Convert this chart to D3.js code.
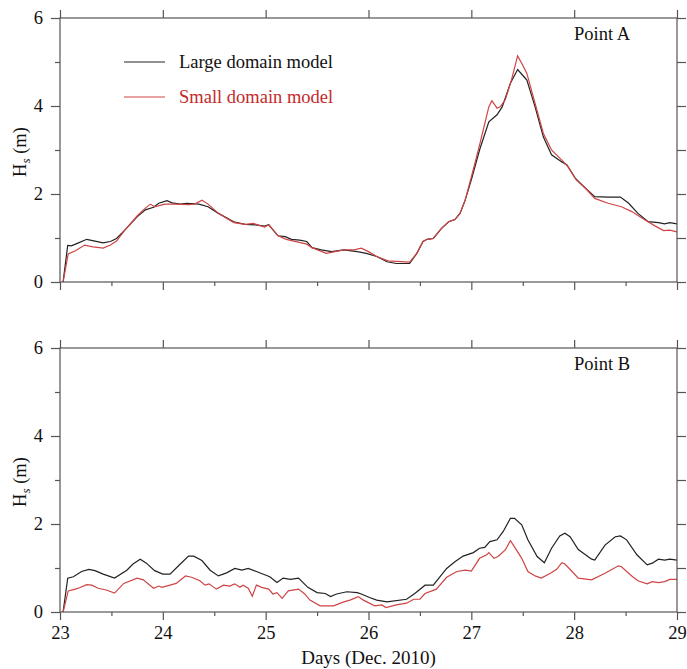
<!DOCTYPE html>
<html>
<head>
<meta charset="utf-8">
<script src="https://cdn.jsdelivr.net/npm/d3@7"></script>
<style>
  body { margin: 0; background: #fff; }
  svg text { font-family: "Liberation Serif", "Times New Roman", serif; fill: #111; }
</style>
</head>
<body>
<div class="chart-wrapper"></div>
<script>
// Point A, large domain model
const dayALarge = [23.03,23.075,23.11,23.18,23.26,23.34,23.42,23.49,23.55,23.63,23.75,23.83,23.91,23.96,24.04,24.09,24.17,24.23,24.35,24.44,24.54,24.69,24.80,24.90,24.99,25.03,25.12,25.19,25.25,25.33,25.40,25.45,25.54,25.64,25.76,25.89,25.98,26.08,26.18,26.27,26.40,26.47,26.53,26.57,26.63,26.71,26.78,26.84,26.89,26.94,27.00,27.08,27.17,27.25,27.30,27.38,27.45,27.51,27.54,27.62,27.70,27.78,27.88,27.93,28.01,28.11,28.20,28.33,28.45,28.53,28.62,28.72,28.82,28.88,28.93,29.0]
const hsALarge  = [0,0.83,0.82,0.89,0.97,0.93,0.89,0.92,0.99,1.18,1.48,1.64,1.70,1.79,1.85,1.80,1.77,1.79,1.77,1.71,1.56,1.37,1.31,1.30,1.27,1.30,1.05,1.03,0.97,0.95,0.92,0.78,0.73,0.69,0.73,0.69,0.65,0.58,0.46,0.42,0.42,0.65,0.92,0.97,0.99,1.22,1.37,1.42,1.56,1.86,2.32,3.00,3.64,3.80,3.98,4.52,4.83,4.67,4.59,3.98,3.30,2.89,2.73,2.66,2.36,2.13,1.94,1.93,1.93,1.79,1.56,1.37,1.35,1.32,1.35,1.32]

// Point A, small domain model
const dayASmall = [23.03,23.08,23.15,23.24,23.32,23.42,23.49,23.55,23.63,23.75,23.81,23.88,23.92,24.02,24.12,24.25,24.31,24.38,24.44,24.54,24.69,24.80,24.88,24.99,25.03,25.12,25.20,25.40,25.45,25.59,25.76,25.86,25.93,26.00,26.08,26.19,26.40,26.47,26.53,26.57,26.63,26.71,26.78,26.84,26.89,26.94,27.00,27.08,27.17,27.20,27.25,27.28,27.33,27.39,27.45,27.49,27.54,27.62,27.70,27.78,27.88,27.94,28.02,28.11,28.20,28.33,28.46,28.56,28.69,28.79,28.87,28.93,29.0]
const hsASmall  = [0,0.64,0.71,0.84,0.80,0.77,0.84,0.93,1.18,1.50,1.64,1.77,1.71,1.77,1.77,1.76,1.77,1.86,1.77,1.56,1.35,1.31,1.33,1.25,1.30,1.05,0.97,0.86,0.78,0.65,0.73,0.73,0.77,0.69,0.58,0.48,0.45,0.65,0.92,0.97,0.99,1.22,1.37,1.42,1.56,1.86,2.39,3.11,3.98,4.12,3.95,3.98,4.14,4.59,5.14,4.97,4.74,4.06,3.38,3.00,2.77,2.62,2.32,2.13,1.90,1.79,1.71,1.60,1.41,1.27,1.17,1.18,1.14]

// Point B, large domain model
const dayBLarge = [23.03,23.075,23.13,23.21,23.28,23.34,23.42,23.53,23.65,23.71,23.78,23.84,23.92,24.00,24.07,24.17,24.25,24.30,24.38,24.46,24.54,24.62,24.70,24.77,24.83,24.91,25.04,25.11,25.17,25.24,25.32,25.41,25.50,25.58,25.63,25.69,25.79,25.89,25.93,26.01,26.08,26.18,26.37,26.45,26.55,26.63,26.76,26.84,26.92,27.02,27.08,27.13,27.18,27.25,27.31,27.38,27.42,27.49,27.55,27.64,27.71,27.78,27.86,27.91,27.96,28.04,28.17,28.20,28.30,28.40,28.45,28.51,28.61,28.71,28.76,28.82,28.88,28.93,29.0]
const hsBLarge  = [0,0.77,0.80,0.92,0.97,0.94,0.86,0.77,0.95,1.09,1.20,1.11,0.94,0.86,0.86,1.09,1.27,1.27,1.17,0.95,0.82,0.89,0.99,0.95,0.99,0.92,0.80,0.67,0.77,0.74,0.77,0.56,0.44,0.42,0.35,0.41,0.46,0.44,0.41,0.33,0.27,0.23,0.29,0.42,0.61,0.61,0.99,1.14,1.27,1.35,1.45,1.47,1.60,1.64,1.83,2.13,2.13,1.98,1.64,1.26,1.12,1.45,1.73,1.79,1.71,1.42,1.20,1.18,1.52,1.71,1.73,1.64,1.30,1.07,1.11,1.20,1.18,1.20,1.18]

// Point B, small domain model
const dayBSmall = [23.03,23.08,23.15,23.19,23.26,23.31,23.37,23.45,23.53,23.62,23.75,23.81,23.91,23.96,23.99,24.07,24.13,24.22,24.28,24.36,24.41,24.45,24.52,24.59,24.65,24.70,24.75,24.78,24.83,24.87,24.91,24.96,25.03,25.07,25.11,25.16,25.22,25.32,25.38,25.43,25.53,25.66,25.76,25.82,25.90,25.95,26.06,26.13,26.17,26.27,26.37,26.44,26.50,26.55,26.66,26.76,26.86,26.94,27.00,27.08,27.15,27.17,27.22,27.26,27.33,27.38,27.42,27.49,27.55,27.62,27.68,27.77,27.83,27.88,27.91,27.98,28.04,28.17,28.30,28.43,28.46,28.56,28.62,28.71,28.76,28.82,28.88,28.93,29.0]
const hsBSmall  = [0,0.48,0.52,0.55,0.62,0.61,0.54,0.50,0.43,0.65,0.77,0.73,0.54,0.59,0.56,0.61,0.65,0.82,0.79,0.71,0.61,0.64,0.52,0.61,0.59,0.64,0.56,0.61,0.54,0.36,0.61,0.56,0.52,0.41,0.44,0.31,0.48,0.52,0.41,0.27,0.14,0.14,0.23,0.27,0.35,0.27,0.14,0.16,0.10,0.16,0.20,0.29,0.29,0.42,0.52,0.79,0.92,0.95,0.93,1.22,1.30,1.35,1.22,1.26,1.41,1.62,1.48,1.22,0.92,0.82,0.77,0.88,0.97,1.12,1.09,0.92,0.77,0.73,0.88,1.05,1.03,0.82,0.71,0.64,0.69,0.67,0.69,0.74,0.74]

const xTicks = [23,24,25,26,27,28,29]
const xMinor = [23.5,24.5,25.5,26.5,27.5,28.5]
const yTicks = [0,2,4,6]
const yMinor = [1,3,5]
const seriesNames = ['Large domain model','Small domain model']
const pointNames = ['Point A','Point B']

const width = 687, height = 669;
const colLarge = '#222', colSmall = '#cf4444', axisCol = '#555';

const svg = d3.select('.chart-wrapper')
.append('svg')
.attr('width', width)
.attr('height', height);

let x = d3.scaleLinear()
.domain([23, 29])
.range([60, 677]);

const panels = [
    {top: 18, bottom: 282, name: pointNames[0], large: [dayALarge, hsALarge], small: [dayASmall, hsASmall], labels: false},
    {top: 348, bottom: 612, name: pointNames[1], large: [dayBLarge, hsBLarge], small: [dayBSmall, hsBSmall], labels: true}
]

panels.forEach((p, i) => {

    let y = d3.scaleLinear()
    .domain([0, 6])
    .range([p.bottom, p.top]);

    const g = svg.append('g')

    let line = d3.line()
    .x(d => x(d[0]))
    .y(d => y(d[1]));

    const zip = s => s[0].map((d, k) => [d, s[1][k]])

    g.append('path')
    .datum(zip(p.large))
    .attr('d', line)
    .attr('fill', 'none')
    .attr('stroke', colLarge)
    .attr('stroke-width', 1.2)

    g.append('path')
    .datum(zip(p.small))
    .attr('d', line)
    .attr('fill', 'none')
    .attr('stroke', colSmall)
    .attr('stroke-width', 1.2)

    // frame
    g.append('rect')
    .attr('x', x(23)).attr('y', p.top)
    .attr('width', x(29) - x(23)).attr('height', p.bottom - p.top)
    .attr('fill', 'none')
    .attr('stroke', axisCol)
    .attr('stroke-width', 1.2)

    const styleAxis = a => {
        a.select('.domain').remove();
        a.selectAll('line').attr('stroke', axisCol).attr('stroke-width', 1.2);
        a.selectAll('text').attr('font-size', 18.5).attr('fill', '#111').attr('font-family', '"Liberation Serif", serif');
    }

    g.append('g').attr('transform', `translate(${x(23)},0)`)
    .call(d3.axisLeft(y).tickValues(yTicks).tickSize(9).tickPadding(8).tickFormat(d3.format('d')))
    .call(styleAxis)

    g.append('g').attr('transform', `translate(${x(23)},0)`)
    .call(d3.axisLeft(y).tickValues(yMinor).tickSize(5).tickFormat(''))
    .call(styleAxis)

    g.append('g').attr('transform', `translate(${x(29)},0)`)
    .call(d3.axisRight(y).tickValues(d3.range(0, 7)).tickSize(9).tickFormat(''))
    .call(styleAxis)

    g.append('g').attr('transform', `translate(0,${p.top})`)
    .call(d3.axisTop(x).tickValues(xTicks).tickSize(8).tickFormat(''))
    .call(styleAxis)

    g.append('g').attr('transform', `translate(0,${p.bottom})`)
    .call(d3.axisBottom(x).tickValues(xTicks).tickSize(8).tickPadding(6).tickFormat(p.labels ? d3.format('d') : ''))
    .call(styleAxis)

    g.append('g').attr('transform', `translate(0,${p.bottom})`)
    .call(d3.axisBottom(x).tickValues(xMinor).tickSize(4).tickFormat(''))
    .call(styleAxis)

    // y label
    const yl = g.append('text')
    .attr('transform', `translate(26,${(p.top + p.bottom) / 2 + 2}) rotate(-90)`)
    .attr('text-anchor', 'middle')
    .attr('font-size', 18.5)
    yl.append('tspan').text('H')
    yl.append('tspan').text('s').attr('font-style', 'italic').attr('font-size', 13).attr('dy', 4)
    yl.append('tspan').text(' (m)').attr('dy', -4)

    g.append('text')
    .attr('x', 574)
    .attr('y', p.top + 22)
    .attr('font-size', 18.5)
    .text(p.name)
})

// legend
const legend = svg.append('g')
const legendItems = [[seriesNames[0], colLarge, 62], [seriesNames[1], colSmall, 97]]
legendItems.forEach(d => {
    legend.append('line')
    .attr('x1', 124).attr('x2', 165)
    .attr('y1', d[2]).attr('y2', d[2])
    .attr('stroke', d[1]).attr('stroke-width', 1.2)
    legend.append('text')
    .attr('x', 179).attr('y', d[2] + 6)
    .attr('font-size', 18.5)
    .style('fill', d[1] === colLarge ? '#111' : '#c42a2a')
    .text(d[0])
})

svg.append('text')
.attr('x', x(26))
.attr('y', 664)
.attr('text-anchor', 'middle')
.attr('font-size', 19)
.text('Days (Dec. 2010)')
</script>
</body>
</html>
